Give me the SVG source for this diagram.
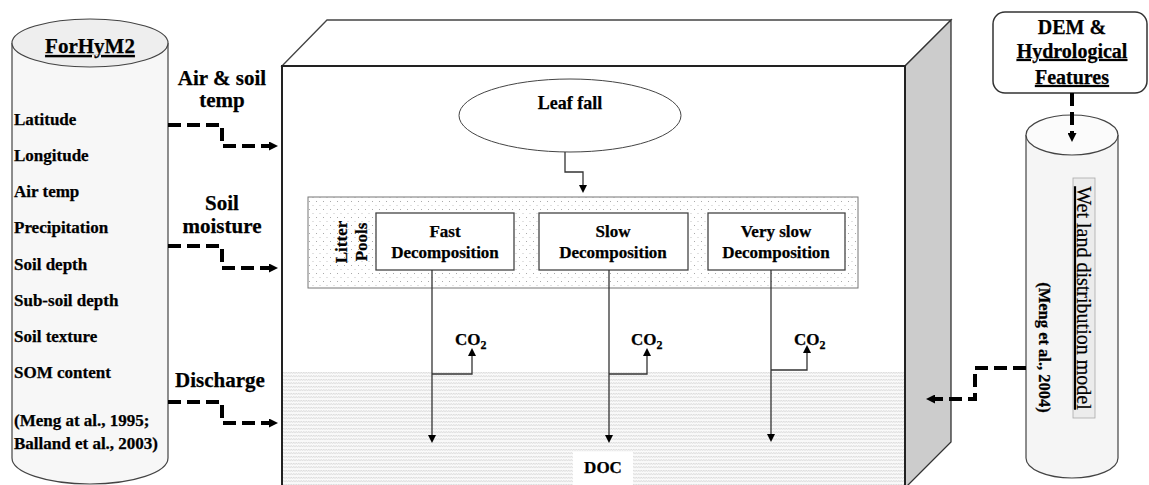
<svg xmlns="http://www.w3.org/2000/svg" width="1149" height="485" viewBox="0 0 1149 485">
  <style>
    text { font-family: "Liberation Serif", "Times New Roman", serif; fill: #000; }
    .b { font-weight: bold; stroke: #000; stroke-width: 0.25; }
    .lst { font-size: 17px; font-weight: bold; stroke: #000; stroke-width: 0.25; }
    .lbl { font-size: 21px; font-weight: bold; text-anchor: middle; stroke: #000; stroke-width: 0.25; }
    .pool { font-size: 17px; font-weight: bold; text-anchor: middle; stroke: #000; stroke-width: 0.25; }
    .co { font-size: 17px; font-weight: bold; stroke: #000; stroke-width: 0.25; }
    .thin { fill: none; stroke: #333; stroke-width: 1.3; }
    .dash { fill: none; stroke: #000; stroke-width: 4; stroke-dasharray: 13 6; }
    .box { fill: #fff; stroke: #444; stroke-width: 1.3; }
  </style>
  <defs>
    <marker id="tri" viewBox="0 0 10 10" refX="0" refY="5" markerWidth="8" markerHeight="8" markerUnits="userSpaceOnUse" orient="auto">
      <path d="M0,0 L10,5 L0,10 z" fill="#000"/>
    </marker>
    <marker id="dtri" viewBox="0 0 10 10" refX="0" refY="5" markerWidth="9" markerHeight="9" markerUnits="userSpaceOnUse" orient="auto">
      <path d="M0,0 L10,5 L0,10 z" fill="#000"/>
    </marker>
    <pattern id="dots" width="7" height="8" patternUnits="userSpaceOnUse">
      <rect width="7" height="8" fill="#fff"/>
      <rect x="1" y="1" width="1" height="1" fill="#aaa"/>
      <rect x="4.5" y="5" width="1" height="1" fill="#c4c4c4"/>
    </pattern>
    <pattern id="waves" width="5" height="3.5" patternUnits="userSpaceOnUse">
      <rect width="5" height="3.5" fill="#fafafa"/>
      <path d="M0,2.6 L1.25,0.9 L2.5,2.6 L3.75,0.9 L5,2.6" fill="none" stroke="#d2d2d2" stroke-width="0.7"/>
    </pattern>
  </defs>

  <!-- ForHyM2 input cylinder -->
  <g id="forhym2">
    <path d="M12,43 V458 A78,26 0 0 0 168,458 V43" fill="#f7f7f7" stroke="#444" stroke-width="1.2"/>
    <ellipse cx="90" cy="43" rx="78" ry="24" fill="#eeeeee" stroke="#444" stroke-width="1.2"/>
    <text x="90" y="53" class="b" font-size="21" text-anchor="middle" text-decoration="underline">ForHyM2</text>
    <text x="14" y="125" class="lst">Latitude</text>
    <text x="14" y="161" class="lst">Longitude</text>
    <text x="14" y="197" class="lst">Air temp</text>
    <text x="14" y="233" class="lst">Precipitation</text>
    <text x="14" y="270" class="lst">Soil depth</text>
    <text x="14" y="306" class="lst">Sub-soil depth</text>
    <text x="14" y="342" class="lst">Soil texture</text>
    <text x="14" y="378" class="lst">SOM content</text>
    <text x="14" y="426" class="lst">(Meng at al., 1995;</text>
    <text x="14" y="449" class="lst">Balland et al., 2003)</text>
  </g>

  <!-- forcing labels -->
  <g id="forcings">
    <text x="222" y="85" class="lbl">Air &amp; soil</text>
    <text x="222" y="107" class="lbl">temp</text>
    <text x="222" y="210" class="lbl">Soil</text>
    <text x="222" y="233" class="lbl">moisture</text>
    <text x="220" y="387" class="lbl">Discharge</text>
  </g>

  <!-- soil block (3D box) -->
  <g id="soil-block">
    <polygon points="282,66 327,20 951,20 905,66" fill="#fff" stroke="#444" stroke-width="1.3"/>
    <polygon points="905,66 951,20 951,442 905,488" fill="#cccccc" stroke="#333" stroke-width="1.3"/>
    <rect x="282" y="66" width="623" height="430" fill="#fff"/>
    <rect x="283" y="372" width="621" height="115" fill="url(#waves)"/>
    <path d="M282,490 V66 H905 V490" fill="none" stroke="#222" stroke-width="2"/>
  </g>

  <!-- leaf fall -->
  <g id="leaf-fall">
    <ellipse cx="570" cy="115.5" rx="111" ry="36.5" fill="#fff" stroke="#444" stroke-width="1"/>
    <text x="570" y="109" class="b" font-size="18" text-anchor="middle" stroke-width="0.6">Leaf fall</text>
  </g>

  <!-- litter pools -->
  <g id="litter-pools">
    <rect x="308" y="197" width="550" height="91" fill="url(#dots)" stroke="#777" stroke-width="1"/>
    <text transform="translate(347,242) rotate(-90)" class="pool">Litter</text>
    <text transform="translate(367,242) rotate(-90)" class="pool">Pools</text>
  </g>
  <g id="fast">
    <rect x="376" y="213" width="138" height="57" class="box"/>
    <text x="445" y="237" class="pool">Fast</text>
    <text x="445" y="258" class="pool">Decomposition</text>
  </g>
  <g id="slow">
    <rect x="539" y="213" width="149" height="57" class="box"/>
    <text x="613" y="237" class="pool">Slow</text>
    <text x="613" y="258" class="pool">Decomposition</text>
  </g>
  <g id="very-slow">
    <rect x="708" y="213" width="137" height="57" class="box"/>
    <text x="776" y="237" class="pool">Very slow</text>
    <text x="776" y="258" class="pool">Decomposition</text>
  </g>

  <!-- CO2 outputs -->
  <g id="co2-fast"><text x="455" y="345" class="co">CO<tspan font-size="12" dy="4">2</tspan></text></g>
  <g id="co2-slow"><text x="631" y="345" class="co">CO<tspan font-size="12" dy="4">2</tspan></text></g>
  <g id="co2-very-slow"><text x="794" y="345" class="co">CO<tspan font-size="12" dy="4">2</tspan></text></g>

  <!-- DOC -->
  <g id="doc">
    <rect x="573" y="452" width="60" height="34" fill="#fff"/>
    <text x="603" y="473" class="co" text-anchor="middle">DOC</text>
  </g>

  <!-- DEM & hydrological features -->
  <g id="dem">
    <rect x="993" y="12" width="154" height="81" rx="12" ry="12" fill="#fff" stroke="#333" stroke-width="1.5"/>
    <text x="1072" y="34" class="b" font-size="20" text-anchor="middle">DEM &amp;</text>
    <text x="1072" y="58" class="b" font-size="20" text-anchor="middle" text-decoration="underline">Hydrological</text>
    <text x="1072" y="84" class="b" font-size="20" text-anchor="middle" text-decoration="underline">Features</text>
  </g>

  <!-- wetland distribution model cylinder -->
  <g id="wetland">
    <path d="M1026,135 V458 A46,20 0 0 0 1118,458 V135" fill="#f5f5f5" stroke="#444" stroke-width="1.2"/>
    <ellipse cx="1072" cy="135" rx="46" ry="20" fill="#fbfbfb" stroke="#444" stroke-width="1.2"/>
    <rect x="1073" y="178" width="22" height="240" fill="#ececec" stroke="#aaa" stroke-width="0.8"/>
    <text transform="translate(1077,298) rotate(90)" font-size="20" text-anchor="middle" text-decoration="underline" stroke="#000" stroke-width="0.2">Wet land distribution model</text>
    <text transform="translate(1039,347.5) rotate(90)" class="b" font-size="16.5" text-anchor="middle">(Meng et al., 2004)</text>
  </g>

  <!-- connectors -->
  <g id="connectors">
    <path class="dash" d="M168,125 H222 V146 H269" marker-end="url(#dtri)"/>
    <path class="dash" d="M168,246 H222 V268 H269" marker-end="url(#dtri)"/>
    <path class="dash" d="M168,402 H222 V423 H269" marker-end="url(#dtri)"/>
    <path class="dash" d="M1026,368 H975 V399 H935" marker-end="url(#dtri)"/>
    <path class="dash" d="M1072,93 V133" marker-end="url(#dtri)"/>

    <path class="thin" d="M565,152 V172 H583 V185" marker-end="url(#tri)"/>

    <path class="thin" d="M432,270 V435" marker-end="url(#tri)"/>
    <path class="thin" d="M432,374 H472 V356" marker-end="url(#tri)"/>
    <path class="thin" d="M609,270 V435" marker-end="url(#tri)"/>
    <path class="thin" d="M609,374 H647 V356" marker-end="url(#tri)"/>
    <path class="thin" d="M771,270 V434" marker-end="url(#tri)"/>
    <path class="thin" d="M771,370 H807 V353" marker-end="url(#tri)"/>
  </g>
</svg>
